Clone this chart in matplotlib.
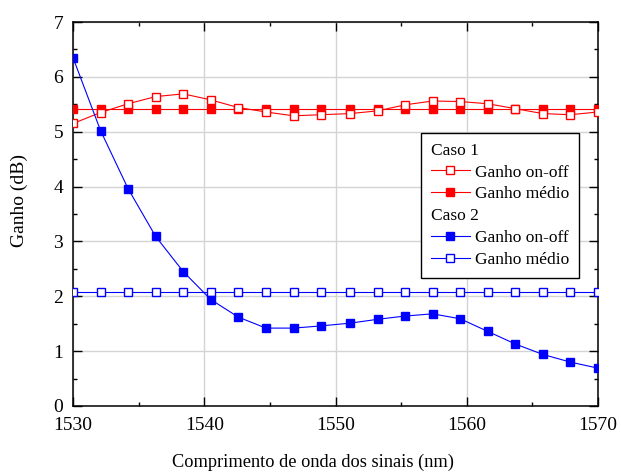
import numpy as np
import matplotlib
matplotlib.use("Agg")
import matplotlib.pyplot as plt
from matplotlib.lines import Line2D

plt.rcParams['font.family'] = ['Liberation Serif', 'DejaVu Serif']

# wavelengths (nm), 20 signal channels between 1530 and 1570
wl = [1530.0, 1532.1, 1534.2, 1536.3, 1538.4, 1540.5, 1542.6, 1544.7, 1546.8, 1548.9,
      1551.1, 1553.2, 1555.3, 1557.4, 1559.5, 1561.6, 1563.7, 1565.8, 1567.9, 1570.0]

# Caso 1
c1_onoff = [5.15, 5.35, 5.51, 5.64, 5.69, 5.58, 5.44, 5.36, 5.29, 5.31,
            5.33, 5.38, 5.49, 5.56, 5.55, 5.51, 5.42, 5.33, 5.31, 5.36]
c1_medio = [5.42] * 20

# Caso 2
c2_onoff = [6.35, 5.02, 3.96, 3.09, 2.45, 1.94, 1.62, 1.42, 1.42, 1.46,
            1.51, 1.58, 1.64, 1.68, 1.59, 1.36, 1.13, 0.94, 0.80, 0.69]
c2_medio = [2.08] * 20

fig = plt.figure(figsize=(6.21, 4.73), dpi=100)
ax = fig.add_axes([73 / 621, 1 - 406 / 473, 525 / 621, 384 / 473])

red = '#ff0000'
blue = '#0000ff'
ms_f = 5.8
ms_o = 5.2

ax.plot(wl, c1_medio, color=red, lw=0.8, marker='s', ms=ms_f, mfc=red, mec=red, zorder=3)
ax.plot(wl, c1_onoff, color=red, lw=0.8, marker='s', ms=ms_o, mfc='white', mec=red, mew=1.0, zorder=3)
ax.plot(wl, c2_medio, color=blue, lw=0.8, marker='s', ms=ms_o, mfc='white', mec=blue, mew=1.0, zorder=3)
ax.plot(wl, c2_onoff, color=blue, lw=0.8, marker='s', ms=ms_f, mfc=blue, mec=blue, zorder=3)

ax.set_xlim(1530, 1570)
ax.set_ylim(0, 7)
ax.set_xticks([1530, 1540, 1550, 1560, 1570])
ax.set_yticks(range(0, 8))
ax.set_xticks(np.arange(1535, 1570, 10), minor=True)
ax.set_yticks(np.arange(0.5, 7, 1.0), minor=True)

ax.grid(True, which='major', color='#d4d4d4', lw=1.0, zorder=0)
ax.set_axisbelow(True)

for s in ax.spines.values():
    s.set_linewidth(1.1)
ax.tick_params(which='both', direction='in', top=True, right=True, width=1.0, labelsize=14)
ax.tick_params(which='major', length=6.5)
ax.tick_params(which='minor', length=3)
ax.tick_params(axis='y', pad=7)
ax.tick_params(axis='x', pad=8)

ax.set_xlabel('Comprimento de onda dos sinais (nm)', fontsize=13.2)
ax.xaxis.set_label_coords(0.457, -0.125)
ax.set_ylabel('Ganho (dB)', fontsize=14)
ax.yaxis.set_label_coords(-0.085, 0.536)

blank = Line2D([], [], linestyle='none', marker=None)
h1o = Line2D([], [], color=red, lw=0.8, marker='s', ms=ms_o, mfc='white', mec=red, mew=1.0)
h1m = Line2D([], [], color=red, lw=0.8, marker='s', ms=ms_f, mfc=red, mec=red)
h2o = Line2D([], [], color=blue, lw=0.8, marker='s', ms=ms_f, mfc=blue, mec=blue)
h2m = Line2D([], [], color=blue, lw=0.8, marker='s', ms=ms_o, mfc='white', mec=blue, mew=1.0)

leg_fs = 12.5
hl = 2.25
htp = 0.3
leg = ax.legend([blank, h1o, h1m, blank, h2o, h2m],
                ['Caso 1', 'Ganho on-off', 'Ganho médio', 'Caso 2', 'Ganho on-off', 'Ganho médio'],
                loc='upper left', bbox_to_anchor=(0.663, 0.711), borderaxespad=0,
                fontsize=leg_fs, handlelength=hl, handletextpad=htp, labelspacing=0.33,
                fancybox=False, framealpha=1, edgecolor='black', borderpad=0.55)
leg.get_frame().set_linewidth(1.0)
shift = (hl + htp) * leg_fs * fig.dpi / 72
for i in (0, 3):
    leg.get_texts()[i].set_x(-shift)

fig.savefig('out.png', dpi=100)
